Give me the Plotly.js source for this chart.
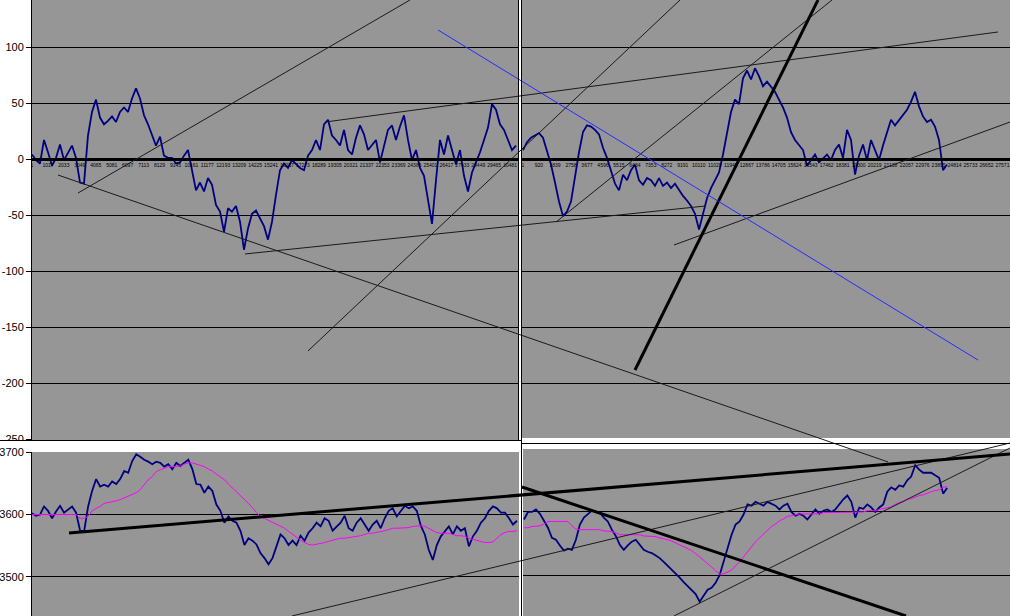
<!DOCTYPE html>
<html>
<head>
<meta charset="utf-8">
<script src="https://cdn.plot.ly/plotly-3.0.1.min.js"></script>
<style>html,body{margin:0;padding:0;background:#fff;}#chart{width:1010px;height:616px;}</style>
</head>
<body>
<div id="chart"></div>
<script>
// ---- observation numbers (category positions) ----
const obsL = [1,256,511,766,1021,1276,1531,1786,2041,2296,
2551,2806,3061,3316,3571,3826,4081,4336,4591,4846,
5101,5356,5611,5866,6121,6376,6631,6886,7141,7396,
7651,7906,8161,8416,8671,8926,9181,9436,9691,9946,
10201,10456,10711,10966,11221,11476,11731,11986,12241,12496,
12751,13006,13261,13516,13771,14026,14281,14536,14791,15046,
15301,15556,15811,16066,16321,16576,16831,17086,17341,17596,
17851,18106,18361,18616,18871,19126,19381,19636,19891,20146,
20401,20656,20911,21166,21421,21676,21931,22186,22441,22696,
22951,23206,23461,23716,23971,24226,24481,24736,24991,25246,
25501,25756,26011,26266,26521,26776,27031,27286,27541,27796,
28051,28306,28561,28816,29071,29326,29581,29836,30091,30346,
30601,30856];
const obsR = [1,231,461,691,921,1151,1381,1611,1841,2071,
2301,2531,2761,2991,3221,3451,3681,3911,4141,4371,
4601,4831,5061,5291,5521,5751,5981,6211,6441,6671,
6901,7131,7361,7591,7821,8051,8281,8511,8741,8971,
9201,9431,9661,9891,10121,10351,10581,10811,11041,11271,
11501,11731,11961,12191,12421,12651,12881,13111,13341,13571,
13801,14031,14261,14491,14721,14951,15181,15411,15641,15871,
16101,16331,16561,16791,17021,17251,17481,17711,17941,18171,
18401,18631,18861,19091,19321,19551,19781,20011,20241,20471,
20701,20931,21161,21391,21621,21851,22081,22311,22541,22771,
23001,23231,23461,23691,23921,24151,24381];

// ---- upper chart: oscillator values ----
const topL = [4,-1,-4,17,6,-6,1,13,-1,6,
12,1,-21,-22,21,42,53,37,31,34,
38,33,42,46,42,54,63,54,39,31,
21,12,20,3,1,1,-4,-3,3,8,
-10,-28,-21,-29,-17,-23,-41,-47,-65,-44,
-47,-42,-56,-81,-62,-49,-46,-53,-60,-72,
-56,-32,-10,-4,-8,-1,-5,-8,-10,3,
8,17,8,31,35,21,17,12,26,8,
4,19,30,22,8,13,17,-3,12,26,
30,17,29,39,17,-1,8,-8,-15,-35,
-58,-19,17,4,21,8,-5,8,-15,-29,
-12,-3,6,17,28,49,44,31,26,17,
8,12];
const topR = [8,15,19,21,23,19,8,-5,-21,-38,
-51,-47,-38,-14,6,24,30,29,26,22,
10,1,-10,-22,-28,-14,-19,-10,-5,-19,
-23,-17,-19,-24,-17,-24,-21,-26,-22,-28,
-33,-37,-42,-49,-63,-49,-35,-26,-19,-12,
4,24,42,53,49,72,79,71,81,74,
65,69,65,60,53,46,37,24,17,13,
8,-6,-1,4,-3,1,4,-1,8,13,
1,26,17,-14,3,13,-1,17,8,-1,
12,24,35,30,35,39,44,51,60,47,
38,33,35,29,17,-10,-5];

// ---- lower chart: price and moving average ----
const priceL = [3602,3598,3600,3613,3606,3594,3605,3614,3603,3608,
3613,3603,3574,3573,3613,3638,3657,3645,3648,3645,
3653,3649,3657,3670,3667,3686,3697,3693,3688,3685,
3681,3685,3683,3677,3681,3673,3683,3678,3683,3688,
3673,3649,3648,3635,3645,3638,3616,3606,3587,3597,
3590,3587,3574,3551,3562,3558,3552,3538,3530,3520,
3530,3549,3568,3562,3551,3558,3551,3566,3558,3571,
3578,3587,3581,3594,3590,3574,3581,3587,3598,3578,
3574,3587,3594,3584,3574,3584,3590,3578,3594,3606,
3610,3597,3606,3614,3610,3613,3606,3582,3568,3543,
3527,3551,3565,3574,3581,3568,3581,3574,3578,3549,
3565,3574,3587,3594,3606,3613,3610,3603,3603,3594,
3584,3590];
const maL = [3600,3600,3601,3601,3600,3600,3601,3600,3600,3600,
3601,3600,3594,3594,3597,3606,3610,3613,3618,3619,
3621,3622,3624,3627,3629,3632,3635,3640,3648,3656,
3661,3669,3672,3675,3677,3677,3678,3678,3681,3683,
3683,3681,3680,3677,3673,3670,3665,3661,3656,3649,
3643,3637,3630,3624,3618,3611,3603,3597,3594,3590,
3587,3584,3581,3578,3573,3568,3563,3559,3555,3552,
3551,3552,3554,3555,3557,3559,3560,3562,3562,3563,
3563,3565,3566,3568,3570,3570,3571,3573,3574,3576,
3578,3578,3578,3579,3579,3581,3582,3582,3581,3578,
3574,3571,3570,3570,3570,3568,3566,3566,3565,3562,
3560,3559,3557,3555,3555,3556,3562,3568,3571,3573,
3573,3574];
const priceR = [3588,3600,3600,3604,3597,3585,3575,3559,3556,3547,
3539,3542,3540,3556,3580,3591,3597,3602,3600,3599,
3591,3585,3572,3562,3548,3540,3547,3553,3556,3547,
3540,3537,3535,3531,3527,3521,3515,3508,3502,3496,
3489,3483,3477,3470,3458,3467,3477,3480,3488,3500,
3521,3543,3564,3580,3585,3596,3612,3610,3616,3613,
3610,3616,3613,3610,3604,3610,3613,3600,3594,3597,
3594,3588,3596,3604,3597,3602,3604,3600,3604,3612,
3620,3626,3616,3591,3607,3605,3612,3607,3600,3607,
3612,3632,3639,3635,3642,3640,3650,3656,3674,3667,
3662,3662,3662,3658,3654,3629,3638];
const maR = [3575,3575,3577,3577,3578,3581,3585,3585,3585,3586,
3586,3585,3578,3573,3572,3572,3572,3572,3572,3572,
3570,3570,3569,3567,3564,3564,3564,3564,3564,3564,
3562,3562,3562,3561,3559,3558,3556,3554,3551,3548,
3545,3542,3539,3534,3529,3523,3518,3513,3507,3502,
3502,3505,3508,3515,3521,3529,3537,3545,3553,3559,
3565,3572,3577,3581,3586,3589,3593,3594,3596,3597,
3597,3597,3597,3597,3597,3599,3599,3600,3600,3600,
3600,3600,3600,3600,3600,3600,3602,3602,3602,3604,
3605,3607,3608,3612,3615,3616,3620,3621,3624,3626,
3627,3630,3632,3634,3635,3639,3640];

// ---- tick labels ----
const topTickVals = [100,50,0,-50,-100,-150,-200,-250];
const topTickText = ['100','50','0','-50','-100','-150','-200','-250'];
const lowTickVals = [3500,3600,3700];
const lowTickText = ['3500','3600','3700'];
const catTicksL = [1,1017,2033,3049,4065,5081,6097,7113,8129,9145,10161,11177,12193,13209,14225,15241,16257,17273,18289,19305,20321,21337,22353,23369,24385,25401,26417,27433,28449,29465,30481];
const catTicksR = [1,920,1839,2758,3677,4596,5515,6434,7353,8272,9191,10110,11029,11948,12867,13786,14705,15624,16543,17462,18381,19300,20219,21138,22057,22976,23895,24814,25733,26652,27571];

// ---- hand-drawn trend lines (observation no. on left scale, oscillator units) ----
const thinStartX = [2934, 1659, 13580, 18680, 17596, 33406, 40929, 16576, 40929];
const thinStartY = [-30.4, -14.3, -84.8, 33.0, -171.4, -56.3, -76.8, -408, -408];
const thinEndX   = [24099, 54571, 42905, 61584, 41311, 51001, 62349, 62349, 62349];
const thinEndY   = [142, -270.5, -42.0, 113.4, 142, 142, 33.0, -253.6, -258.0];
const thickStartX = [38442, 2360, 31239];
const thickStartY = [-188.4, -333.9, -292.9];
const thickEndX   = [50109, 62349, 55719];
const thickEndY   = [142, -263.4, -408];
const blueStartX = [25884];
const blueStartY = [115.2];
const blueEndX   = [60309];
const blueEndY   = [-179.5];

const NAVY = '#000080', MAG = '#ff00ff', GRAY = '#969696';
const traces = [
  {x: obsL, y: topL, xaxis: 'x', yaxis: 'y', mode: 'lines', line: {color: NAVY, width: 1.8}},
  {x: obsR, y: topR, xaxis: 'x2', yaxis: 'y2', mode: 'lines', line: {color: NAVY, width: 1.8}},
  {x: obsL, y: priceL, xaxis: 'x3', yaxis: 'y3', mode: 'lines', line: {color: NAVY, width: 1.8}},
  {x: obsL, y: maL, xaxis: 'x3', yaxis: 'y3', mode: 'lines', line: {color: MAG, width: 1}},
  {x: obsR, y: priceR, xaxis: 'x4', yaxis: 'y4', mode: 'lines', line: {color: NAVY, width: 1.8}},
  {x: obsR, y: maR, xaxis: 'x4', yaxis: 'y4', mode: 'lines', line: {color: MAG, width: 1}}
];
function addLines(x0, y0, x1, y1, color, width) {
  for (let i = 0; i < x0.length; i++) {
    traces.push({x: [x0[i], x1[i]], y: [y0[i], y1[i]], xaxis: 'x5', yaxis: 'y5',
      mode: 'lines', line: {color: color, width: width}});
  }
}
addLines(thinStartX, thinStartY, thinEndX, thinEndY, '#1a1a1a', 1);
addLines(thickStartX, thickStartY, thickEndX, thickEndY, '#000000', 3);
addLines(blueStartX, blueStartY, blueEndX, blueEndY, '#2a2aff', 1);

const W = 1010, H = 616;
const px = v => v / W, py = v => (H - v) / H;
const FONT = 'Liberation Sans, Arial, sans-serif';

const baseY = {showgrid: true, gridcolor: '#000', gridwidth: 1, zeroline: false, fixedrange: true,
  tickmode: 'array', automargin: false};
const layout = {
  width: W, height: H, margin: {l: 0, r: 0, t: 0, b: 0},
  paper_bgcolor: '#ffffff', plot_bgcolor: 'rgba(0,0,0,0)',
  showlegend: false, hovermode: false,
  font: {family: FONT, size: 11, color: '#000'},
  xaxis: {domain: [px(32), px(518)], range: [1, 30983.5], anchor: 'free', position: py(159),
    tickmode: 'array', tickvals: catTicksL, ticktext: catTicksL.map(String), tickangle: 0,
    tickfont: {size: 5, color: '#000'}, showline: true, linecolor: '#000', linewidth: 3,
    showgrid: false, zeroline: false, ticks: '', fixedrange: true, automargin: false},
  yaxis: Object.assign({}, baseY, {domain: [py(440), 1], range: [-250.89, 141.96], anchor: 'x',
    tickvals: topTickVals, ticktext: topTickText, ticks: 'outside', ticklen: 5, tickcolor: '#000',
    showline: true, linecolor: '#000', linewidth: 1, tickfont: {size: 11}}),
  xaxis2: {domain: [px(522), 1], range: [-56.5, 28003.5], anchor: 'free', position: py(159),
    tickmode: 'array', tickvals: catTicksR, ticktext: catTicksR.map(String), tickangle: 0,
    tickfont: {size: 5, color: '#000'}, showline: true, linecolor: '#000', linewidth: 3,
    showgrid: false, zeroline: false, ticks: '', fixedrange: true, automargin: false},
  yaxis2: Object.assign({}, baseY, {domain: [py(438), 1], range: [-249.11, 141.96], anchor: 'x2',
    tickvals: topTickVals, showticklabels: false, ticks: '', showline: false}),
  xaxis3: {domain: [px(32), px(519)], range: [1, 30983.5], anchor: 'y3', showticklabels: false,
    showgrid: false, zeroline: false, showline: false, ticks: '', fixedrange: true},
  yaxis3: Object.assign({}, baseY, {domain: [0, py(452)], range: [3437, 3700.5], anchor: 'x3',
    tickvals: lowTickVals, ticktext: lowTickText, ticks: 'outside', ticklen: 5, tickcolor: '#000',
    showline: true, linecolor: '#000', linewidth: 1, tickfont: {size: 11}}),
  xaxis4: {domain: [px(523), 1], range: [-56.5, 28003.5], anchor: 'y4', showticklabels: false,
    showgrid: false, zeroline: false, showline: false, ticks: '', fixedrange: true},
  yaxis4: Object.assign({}, baseY, {domain: [0, py(449)], range: [3435.4, 3699.6], anchor: 'x4',
    tickvals: lowTickVals, showticklabels: false, ticks: '', showline: false}),
  xaxis5: {domain: [0, 1], range: [-2039, 62348.5], anchor: 'y5', visible: false, fixedrange: true},
  yaxis5: {domain: [0, 1], range: [-408.04, 141.96], anchor: 'x5', visible: false, fixedrange: true},
  shapes: [
    {type: 'rect', xref: 'x domain', yref: 'y domain', x0: 0, x1: 1, y0: 0, y1: 1, fillcolor: GRAY, line: {width: 0}, layer: 'below'},
    {type: 'rect', xref: 'x2 domain', yref: 'y2 domain', x0: 0, x1: 1, y0: 0, y1: 1, fillcolor: GRAY, line: {width: 0}, layer: 'below'},
    {type: 'rect', xref: 'x3 domain', yref: 'y3 domain', x0: 0, x1: 1, y0: 0, y1: 1, fillcolor: GRAY, line: {width: 0}, layer: 'below'},
    {type: 'rect', xref: 'x4 domain', yref: 'y4 domain', x0: 0, x1: 1, y0: 0, y1: 1, fillcolor: GRAY, line: {width: 0}, layer: 'below'},
    {type: 'rect', xref: 'paper', yref: 'paper', x0: 0, x1: px(30), y0: py(446.5), y1: py(440.5), fillcolor: '#fff', line: {width: 0}, layer: 'above'},
    {type: 'line', xref: 'paper', yref: 'paper', x0: 0, x1: px(521), y0: py(440.5), y1: py(440.5), line: {color: '#000', width: 1}, layer: 'above'},
    {type: 'line', xref: 'paper', yref: 'paper', x0: px(521), x1: 1, y0: py(443.5), y1: py(443.5), line: {color: '#000', width: 1}, layer: 'above'},
    {type: 'line', xref: 'paper', yref: 'paper', x0: px(518.5), x1: px(518.5), y0: py(440.5), y1: 1, line: {color: '#000', width: 1}, layer: 'above'},
    {type: 'line', xref: 'paper', yref: 'paper', x0: px(521.5), x1: px(521.5), y0: 0, y1: 1, line: {color: '#000', width: 1}, layer: 'above'}
  ]
};
Plotly.newPlot('chart', traces, layout, {displayModeBar: false, staticPlot: true});
</script>
</body>
</html>
